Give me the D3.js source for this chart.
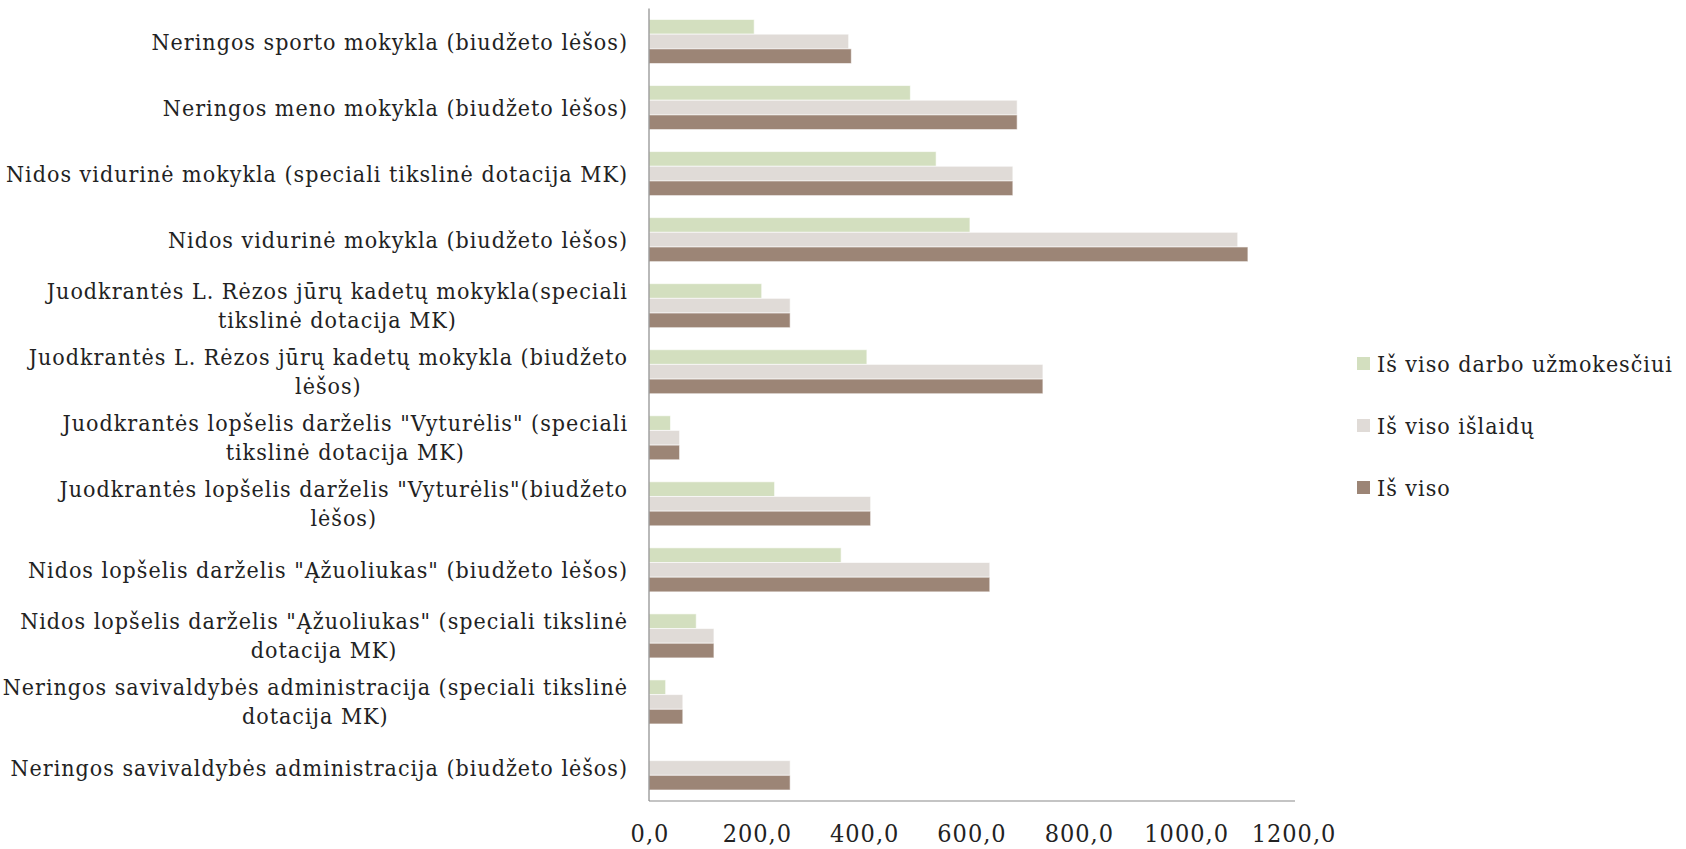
<!DOCTYPE html>
<html>
<head>
<meta charset="utf-8">
<script src="https://cdn.jsdelivr.net/npm/d3@7"></script>
<style>
  html, body { margin: 0; padding: 0; background: #fff; }
  svg { display: block; }
  text { font-family: "DejaVu Serif Condensed", "DejaVu Serif", serif; font-stretch: condensed; fill: #222; letter-spacing: 1px; }
</style>
</head>
<body>
<svg id="chart" width="1686" height="849"></svg>
<script>
// ---- data ----
const categories = [
  ["Neringos sporto mokykla (biudžeto lėšos)"],
  ["Neringos meno mokykla (biudžeto lėšos)"],
  ["Nidos vidurinė mokykla (speciali tikslinė dotacija MK)"],
  ["Nidos vidurinė mokykla (biudžeto lėšos)"],
  ["Juodkrantės L. Rėzos jūrų kadetų mokykla(speciali", "tikslinė dotacija MK)"],
  ["Juodkrantės L. Rėzos jūrų kadetų mokykla (biudžeto", "lėšos)"],
  ["Juodkrantės lopšelis darželis \"Vyturėlis\" (speciali", "tikslinė dotacija MK)"],
  ["Juodkrantės lopšelis darželis \"Vyturėlis\"(biudžeto", "lėšos)"],
  ["Nidos lopšelis darželis \"Ąžuoliukas\" (biudžeto lėšos)"],
  ["Nidos lopšelis darželis \"Ąžuoliukas\" (speciali tikslinė", "dotacija MK)"],
  ["Neringos savivaldybės administracija (speciali tikslinė", "dotacija MK)"],
  ["Neringos savivaldybės administracija (biudžeto lėšos)"]
];
const seriesNames = ["Iš viso darbo užmokesčiui", "Iš viso išlaidų", "Iš viso"];
const darboUzmokesciui = [196, 487, 535, 598, 210, 406, 40, 234, 358, 88, 31, 0];
const islaidu          = [372, 686, 678, 1097, 263, 734, 57, 413, 635, 121, 63, 263];
const isViso           = [377, 686, 678, 1116, 263, 734, 57, 413, 635, 121, 63, 263];
const seriesColors = ["#d3dfbf", "#e0dbd7", "#9c8576"];
const xTicks = [0, 200, 400, 600, 800, 1000, 1200];
const xTickLabels = ["0,0", "200,0", "400,0", "600,0", "800,0", "1000,0", "1200,0"];

// ---- layout ----
const svg = d3.select("#chart");
const plotLeft = 649, plotRight = 1293, plotTop = 8.5, plotBottom = 801;
const fontSize = 23;

const x = d3.scaleLinear().domain([0, 1200]).range([plotLeft, plotRight]);
const y = d3.scaleBand().domain(d3.range(categories.length)).range([plotTop, plotBottom])
  .paddingInner(1/3).paddingOuter(1/6);
const ySub = d3.scaleBand().domain([0, 1, 2]).range([0, y.bandwidth()]);

const seriesValues = [darboUzmokesciui, islaidu, isViso];

// bars
const g = svg.append("g");
seriesValues.forEach((vals, si) => {
  g.selectAll(null).data(vals).enter().append("rect")
    .attr("x", x(0))
    .attr("y", (d, i) => y(i) + ySub(si))
    .attr("width", d => x(d) - x(0))
    .attr("height", ySub.bandwidth())
    .attr("fill", seriesColors[si])
    .attr("stroke", d => d > 0 ? "rgba(255,255,255,0.6)" : "none")
    .attr("stroke-width", 1);
});

// axes lines
svg.append("line").attr("x1", plotLeft).attr("x2", plotLeft).attr("y1", plotTop).attr("y2", plotBottom)
  .attr("stroke", "#8a8a8a").attr("stroke-width", 1.2);
svg.append("line").attr("x1", plotLeft).attr("x2", plotRight + 2).attr("y1", plotBottom).attr("y2", plotBottom)
  .attr("stroke", "#8a8a8a").attr("stroke-width", 1.2);

// x tick labels
svg.append("g").selectAll("text").data(xTicks).enter().append("text")
  .attr("x", d => x(d) + 1)
  .attr("y", 833)
  .attr("dy", "0.35em")
  .attr("text-anchor", "middle")
  .attr("font-size", 25)
  .text((d, i) => xTickLabels[i]);

// category labels
const labelRight = 628;
const lineH = 29;
const lg = svg.append("g");
categories.forEach((lines, i) => {
  const cy = y(i) + y.bandwidth() / 2;
  const texts = lines.map((ln, k) => lg.append("text")
    .attr("font-size", fontSize)
    .attr("dy", "0.35em")
    .attr("y", cy + (k - (lines.length - 1) / 2) * lineH)
    .attr("text-anchor", "middle")
    .text(ln));
  const widths = texts.map(t => t.node().getComputedTextLength());
  const maxW = d3.max(widths);
  const center = labelRight - maxW / 2;
  texts.forEach(t => t.attr("x", center));
});

// legend
const legendY = [363.5, 425.5, 487.5];
const lgd = svg.append("g");
seriesNames.forEach((name, i) => {
  lgd.append("rect").attr("x", 1357).attr("y", legendY[i] - 6.5).attr("width", 13).attr("height", 13)
    .attr("fill", seriesColors[i]);
  lgd.append("text").attr("x", 1377).attr("y", legendY[i]).attr("dy", "0.35em")
    .attr("font-size", fontSize).text(name);
});
</script>
</body>
</html>
